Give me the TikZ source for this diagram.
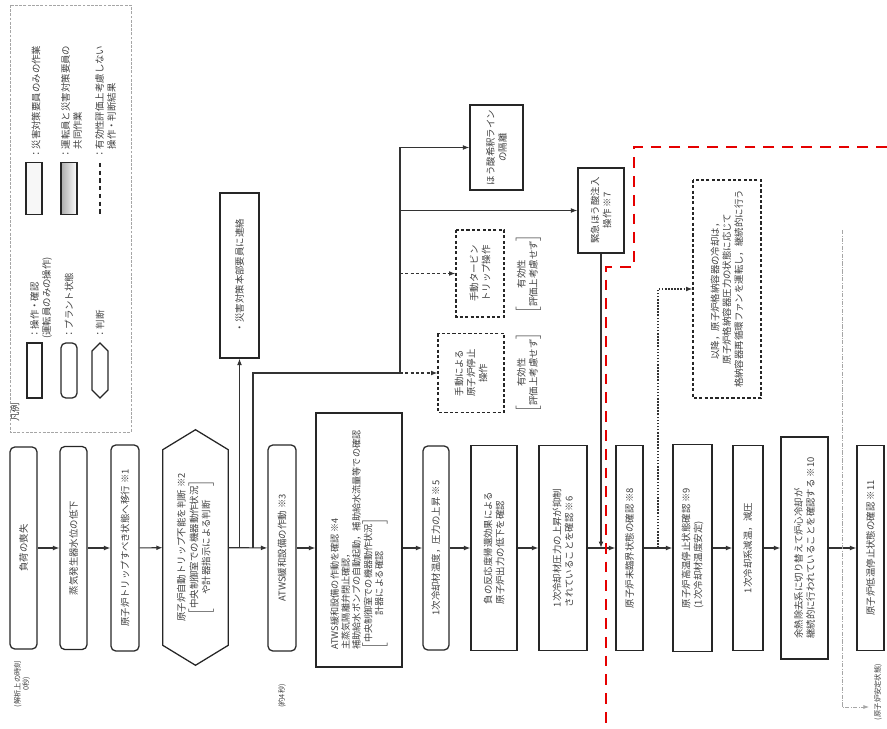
\documentclass[tikz,border=0pt]{standalone}
\usepackage{fontspec}
\setmainfont{Noto Sans CJK JP}
\usepackage{xcolor}
\usepackage{tikz}
\usetikzlibrary{arrows.meta, positioning, calc}
\def\pu{0.25mm}

\begin{document}
\begin{tikzpicture}[
  x=0.25mm, y=-0.25mm,
  every node/.style={font=\fontsize{6.7pt}{8.5pt}\selectfont, text=black!75},
  box/.style={draw=black!85, line width=0.9pt, rotate=90, align=left, inner sep=1pt},
  state/.style={box, rounded corners=1.2mm},
  dbox/.style={box, dash pattern=on 2.2pt off 1.6pt, line width=0.8pt},
  note/.style={rotate=90, align=center, inner sep=0pt},
  small/.style={rotate=90, align=center, inner sep=0pt, font=\fontsize{5.2pt}{6.2pt}\selectfont},
  arrow/.style={-{Latex[length=1.6mm, width=1.2mm]}, line width=0.8pt, draw=black!80},
  darrow/.style={arrow, dash pattern=on 2.2pt off 1.6pt},
  dotarrow/.style={arrow, dash pattern=on 1.1pt off 1.1pt},
  axis/.style={-{Latex[length=1.4mm, width=1mm]}, line width=0.5pt, draw=gray!70,
    dash pattern=on 3pt off 1pt on 0.6pt off 1pt},
  redline/.style={draw=red!90!black, line width=2pt, dash pattern=on 2.7mm off 2mm}
]
  \useasboundingbox (0,0) rectangle (887,729);

  % Legend
  \draw[gray!70, line width=0.5pt, dash pattern=on 2pt off 1pt] (10,5) rectangle (131,432);
  \node[note] (legtitle) at (15,412) {凡例};
  \node[box, minimum width=55*\pu, minimum height=15*\pu] (legop) at (34.5,370.5) {};
  \node[note, align=left, anchor=north west] (legoptext) at (30,339) {：操作・確認\\(運転員のみの操作)};
  \node[state, minimum width=55*\pu, minimum height=16*\pu] (legstate) at (69,370.5) {};
  \node[note, anchor=west] (legstatetext) at (69,339) {：プラント状態};
  \draw[line width=0.9pt, draw=black!85] (100,398) -- (92,390) -- (92,351) -- (100,343) -- (108,351) -- (108,390) -- cycle;
  \node[note, anchor=west] (legjudgetext) at (100,339) {：判断};
  \node[box, fill=gray!6, minimum width=52*\pu, minimum height=16*\pu] (legdis) at (34,188.5) {};
  \node[note, anchor=west] (legdistext) at (36,159) {：災害対策要員のみの作業};
  \node[box, left color=gray!65, right color=white, minimum width=52*\pu, minimum height=16*\pu] (legjoint) at (69,188.5) {};
  \node[note, align=left, anchor=north west] (legjointtext) at (61,159) {：運転員と災害対策要員の\\\hphantom{：}共同作業};
  \draw[line width=1.3pt, draw=black!85, dash pattern=on 3pt off 2.5pt] (100,163) -- (100,214);
  \node[note, align=left, anchor=north west] (legdashtext) at (95,159) {：有効性評価上考慮しない\\\hphantom{：}操作・判断結果};

  % Main flow
  \node[state, minimum width=202*\pu, minimum height=27*\pu] (loss) at (23.5,548) {負荷の喪失};
  \node[state, minimum width=203*\pu, minimum height=27*\pu] (sglevel) at (73.5,548) {蒸気発生器水位の低下};
  \node[state, minimum width=206*\pu, minimum height=28*\pu] (tripreq) at (125,548) {原子炉トリップすべき状態へ移行 ※1};
  \node[rotate=90, align=center, inner sep=0pt, minimum width=235*\pu, minimum height=65*\pu] (hex) at (195.5,547.5)
    {原子炉自動トリップ不能を判断 ※2\\[1pt]$\left[\begin{tabular}{@{}c@{}}中央制御室での機器動作状況\\や計器指示による判断\end{tabular}\right]$};
  \draw[line width=0.9pt, draw=black!85] (hex.east) -- ($(hex.north east)+(0,20)$) -- ($(hex.north west)+(0,-20)$)
    -- (hex.west) -- ($(hex.south west)+(0,-20)$) -- ($(hex.south east)+(0,20)$) -- cycle;
  \node[state, minimum width=206*\pu, minimum height=28*\pu] (atws) at (282,548) {ATWS緩和設備の作動 ※3};
  \node[box, minimum width=254*\pu, minimum height=86*\pu, font=\fontsize{6.5pt}{7.8pt}\selectfont] (atwschk) at (359,540)
    {ATWS緩和設備の作動を確認 ※4\\主蒸気隔離弁閉止確認，\\補助給水ポンプの自動起動，補助給水流量等での確認\\$\left[\begin{tabular}{@{}c@{}}中央制御室での機器動作状況\\計器による確認\end{tabular}\right]$};
  \node[state, minimum width=204*\pu, minimum height=26*\pu] (rcsup) at (436,548) {1次冷却材温度，圧力の上昇 ※5};
  \node[box, minimum width=205*\pu, minimum height=46*\pu] (fbconf) at (494,548) {負の反応度帰還効果による\\原子炉出力の低下を確認};
  \node[box, minimum width=205*\pu, minimum height=48*\pu] (prsconf) at (563,548) {1次冷却材圧力の上昇が抑制\\されていることを確認 ※6};
  \node[box, minimum width=205*\pu, minimum height=27*\pu] (subcrit) at (629.5,548) {原子炉未臨界状態の確認 ※8};
  \node[box, minimum width=207*\pu, minimum height=39*\pu] (hotsd) at (692.5,548) {原子炉高温停止状態確認 ※9\\(1次冷却材温度安定)};
  \node[box, minimum width=205*\pu, minimum height=30*\pu] (cooldown) at (748,548) {1次冷却系減温，減圧};
  \node[box, minimum width=222*\pu, minimum height=47*\pu] (rhr) at (804.5,548) {余熱除去系に切り替えて炉心冷却が\\継続的に行われていることを確認する ※10};
  \node[box, minimum width=205*\pu, minimum height=27*\pu] (coldsd) at (870.5,548) {原子炉低温停止状態の確認 ※11};

  % Side branches
  \node[box, align=center, minimum width=165*\pu, minimum height=39*\pu] (contact) at (239.5,275.5) {・災害対策本部要員に連絡};
  \node[box, align=center, minimum width=85*\pu, minimum height=53*\pu] (dilution) at (496.5,147.5) {ほう酸希釈ライン\\の隔離};
  \node[box, align=center, minimum width=85*\pu, minimum height=46*\pu] (boration) at (601,210.5) {緊急ほう酸注入\\操作 ※7};
  \node[dbox, align=center, minimum width=87*\pu, minimum height=48*\pu] (turbtrip) at (480,273.5) {手動タービン\\トリップ操作};
  \node[dbox, align=center, minimum width=79*\pu, minimum height=66*\pu] (mantrip) at (471,373) {手動による\\原子炉停止\\操作};
  \node[note] (note1) at (528.5,274) {$\left[\begin{tabular}{@{}c@{}}有効性\\評価上考慮せず\end{tabular}\right]$};
  \node[note] (note2) at (528.5,372.5) {$\left[\begin{tabular}{@{}c@{}}有効性\\評価上考慮せず\end{tabular}\right]$};
  \node[dbox, align=center, minimum width=218*\pu, minimum height=68*\pu] (cntmt) at (727,289)
    {以降，原子炉格納容器の冷却は，\\原子炉格納容器圧力の状態に応じて\\格納容器再循環ファンを運転し，継続的に行う};

  % Time labels
  \node[small] (t0) at (22,684) {(解析上の時刻\\0秒)};
  \node[small] (t1) at (282,696) {(約4秒)};
  \node[small] (stable) at (878,692) {(原子炉安定状態)};

  % Main arrows
  \draw[arrow] (loss) -- (sglevel);
  \draw[arrow] (sglevel) -- (tripreq);
  \draw[arrow] (tripreq) -- (hex);
  \draw[arrow] (hex) -- (atws);
  \draw[arrow] (atws) -- (atws -| atwschk.north);
  \draw[arrow] (atwschk.south |- rcsup) -- (rcsup);
  \draw[arrow] (rcsup) -- (fbconf);
  \draw[arrow] (fbconf) -- (prsconf);
  \draw[arrow] (prsconf) -- (subcrit);
  \draw[arrow] (subcrit) -- (hotsd);
  \draw[arrow] (hotsd) -- (cooldown);
  \draw[arrow] (cooldown) -- (rhr);
  \draw[arrow] (rhr) -- (coldsd);

  % Branch arrows
  \coordinate (br1) at (239.5,548);
  \coordinate (br2) at (253,548);
  \coordinate (jct) at (400,373);
  \coordinate (br3) at (658,548);
  \draw[arrow] (br1) -- (contact);
  \draw[arrow] (br2) |- (jct) -- (jct |- dilution) -- (dilution);
  \draw[arrow] (jct |- boration) -- (boration);
  \draw[darrow] (jct |- turbtrip) -- (turbtrip);
  \draw[darrow] (jct) -- (mantrip);
  \draw[arrow] (boration) -- (boration |- prsconf);
  \draw[dotarrow] (br3) |- (cntmt);

  % Stable-state axis
  \coordinate (axtop) at (842,230);
  \coordinate (axend) at (869,707);
  \draw[axis] (axtop) |- (axend);

  % Red boundary
  \draw[redline] (887,147) -- (634,147) -- (634,267) -- (606,267) -- (606,729);

\end{tikzpicture}
\end{document}
